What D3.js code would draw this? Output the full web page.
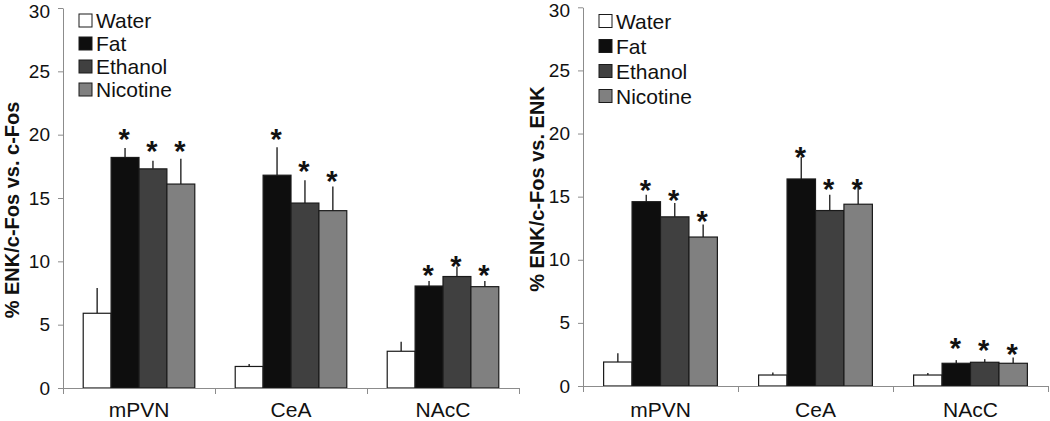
<!DOCTYPE html>
<html>
<head>
<meta charset="utf-8">
<script src="https://cdn.jsdelivr.net/npm/d3@7"></script>
<style>
  body { margin: 0; background: #fff; }
  svg { display: block; font-family: "Liberation Sans", Arial, sans-serif; }
</style>
</head>
<body>
<svg width="1050" height="421"></svg>
<script>
// categorias e series
var categories = ["mPVN", "CeA", "NAcC"];
var series = ["Water", "Fat", "Ethanol", "Nicotine"];
var colors = ["#ffffff", "#0e0e0e", "#404040", "#808080"];
var yTicks = [0, 5, 10, 15, 20, 25, 30];

// painel esquerdo: % ENK/c-Fos vs. c-Fos
var leftMeans = [[5.9, 18.2, 17.3, 16.1], [1.7, 16.8, 14.6, 14.0], [2.9, 8.05, 8.8, 8.0]];
var leftErrs = [[2.0, 0.75, 0.65, 2.0], [0.2, 2.2, 1.8, 1.9], [0.75, 0.4, 0.8, 0.45]];
var leftStars = [[null, 20.2, 19.3, 19.3], [null, 20.2, 17.7, 16.9], [null, 9.45, 10.2, 9.45]];

// painel direito: % ENK/c-Fos vs. ENK
var rightMeans = [[1.9, 14.6, 13.4, 11.8], [0.87, 16.4, 13.9, 14.4], [0.87, 1.8, 1.88, 1.8]];
var rightErrs = [[0.7, 0.55, 1.1, 1.0], [0.2, 1.75, 1.25, 1.55], [0.15, 0.25, 0.25, 0.45]];
var rightStars = [[null, 16.06, 15.27, 13.6], [null, 18.7, 16.19, 16.19], [null, 3.59, 3.38, 3.11]];

var svg = d3.select("svg");

var panels = [
  {left: 63, right: 519, top: 8, bottom: 388, means: leftMeans, errs: leftErrs, stars: leftStars,
   title: "% ENK/c-Fos vs. c-Fos", titleX: 12, titleY: 210, legX: 79, legY: 20.5, legStep: 23},
  {left: 583, right: 1048, top: 7.3, bottom: 386, means: rightMeans, errs: rightErrs, stars: rightStars,
   title: "% ENK/c-Fos vs. ENK", titleX: 537, titleY: 189, legX: 599, legY: 21, legStep: 25}
];

panels.forEach(function(p) {
  var w = p.right - p.left;
  var g = svg.append("g").attr("transform", "translate(" + p.left + ",0)");

  var x0 = d3.scaleBand().domain(categories).range([0, w]).padding(0);
  var pad = x0.bandwidth() * 0.133;
  var x1 = d3.scaleBand().domain(series).range([pad, x0.bandwidth() - pad]).padding(0);
  var y = d3.scaleLinear().domain([0, 30]).range([p.bottom, p.top]);

  // eixo y
  var ya = g.append("g")
    .call(d3.axisLeft(y).tickValues(yTicks).tickSize(5).tickSizeOuter(0).tickPadding(8));
  ya.select(".domain").attr("stroke", "#8c8c8c");
  ya.selectAll(".tick line").attr("stroke", "#8c8c8c");
  ya.selectAll(".tick text").attr("font-size", 19).attr("fill", "#111")
    .style("font-family", "Liberation Sans, Arial, sans-serif");
  // o rotulo do topo fica um pouco abaixo, como no original
  ya.selectAll(".tick text").filter(function(d) { return d === 30; }).attr("y", 3);

  // barras
  var groups = g.append("g").selectAll("g")
    .data(categories)
    .enter().append("g")
    .attr("transform", function(d) { return "translate(" + x0(d) + ",0)"; });

  var items = groups.selectAll("g")
    .data(function(d, ci) {
      return series.map(function(s, si) {
        return {key: s, idx: si, value: p.means[ci][si], err: p.errs[ci][si], star: p.stars[ci][si]};
      });
    })
    .enter().append("g");

  items.append("line")
    .attr("x1", function(d) { return x1(d.key) + x1.bandwidth() / 2; })
    .attr("x2", function(d) { return x1(d.key) + x1.bandwidth() / 2; })
    .attr("y1", function(d) { return y(d.value); })
    .attr("y2", function(d) { return y(d.value + d.err); })
    .attr("stroke", "#333")
    .attr("stroke-width", 1.5);

  items.append("rect")
    .attr("x", function(d) { return x1(d.key); })
    .attr("y", function(d) { return y(d.value); })
    .attr("width", x1.bandwidth())
    .attr("height", function(d) { return y(0) - y(d.value); })
    .attr("fill", function(d) { return colors[d.idx]; })
    .attr("stroke", "#1a1a1a")
    .attr("stroke-width", 1.2);

  items.filter(function(d) { return d.star != null; })
    .append("text")
    .attr("x", function(d) { return x1(d.key) + x1.bandwidth() / 2 - 1; })
    .attr("y", function(d) { return y(d.star) + 17; })
    .attr("text-anchor", "middle")
    .attr("font-size", 29)
    .attr("font-weight", "bold")
    .attr("fill", "#111")
    .text("*");

  // eixo x
  var xl = d3.scaleLinear().domain([0, categories.length]).range([0, w]);
  var xa = g.append("g")
    .attr("transform", "translate(0," + y(0) + ")")
    .call(d3.axisBottom(xl).tickValues(d3.range(categories.length + 1)).tickFormat("").tickSize(6).tickSizeOuter(0));
  xa.select(".domain").attr("stroke", "#8c8c8c");
  xa.selectAll(".tick line").attr("stroke", "#8c8c8c");

  g.append("g").selectAll("text")
    .data(categories)
    .enter().append("text")
    .attr("x", function(d) { return x0(d) + x0.bandwidth() / 2; })
    .attr("y", 417)
    .attr("text-anchor", "middle")
    .attr("font-size", 21)
    .attr("fill", "#111")
    .text(function(d) { return d; });

  // titulo do eixo y
  svg.append("text")
    .attr("transform", "translate(" + p.titleX + "," + p.titleY + ") rotate(-90)")
    .attr("text-anchor", "middle")
    .attr("dy", "0.35em")
    .attr("font-size", 20)
    .attr("font-weight", "bold")
    .attr("fill", "#111")
    .text(p.title);

  // legenda
  var legend = svg.append("g").selectAll("g")
    .data(series)
    .enter().append("g")
    .attr("transform", function(d, i) { return "translate(" + p.legX + "," + (p.legY + i * p.legStep) + ")"; });

  legend.append("rect")
    .attr("x", 0)
    .attr("y", -6.5)
    .attr("width", 13)
    .attr("height", 13)
    .attr("fill", function(d, i) { return colors[i]; })
    .attr("stroke", "#1a1a1a")
    .attr("stroke-width", 1);

  legend.append("text")
    .attr("x", 17)
    .attr("y", 0)
    .attr("dy", "0.36em")
    .attr("font-size", 21)
    .attr("fill", "#111")
    .text(function(d) { return d; });
});
</script>
</body>
</html>
